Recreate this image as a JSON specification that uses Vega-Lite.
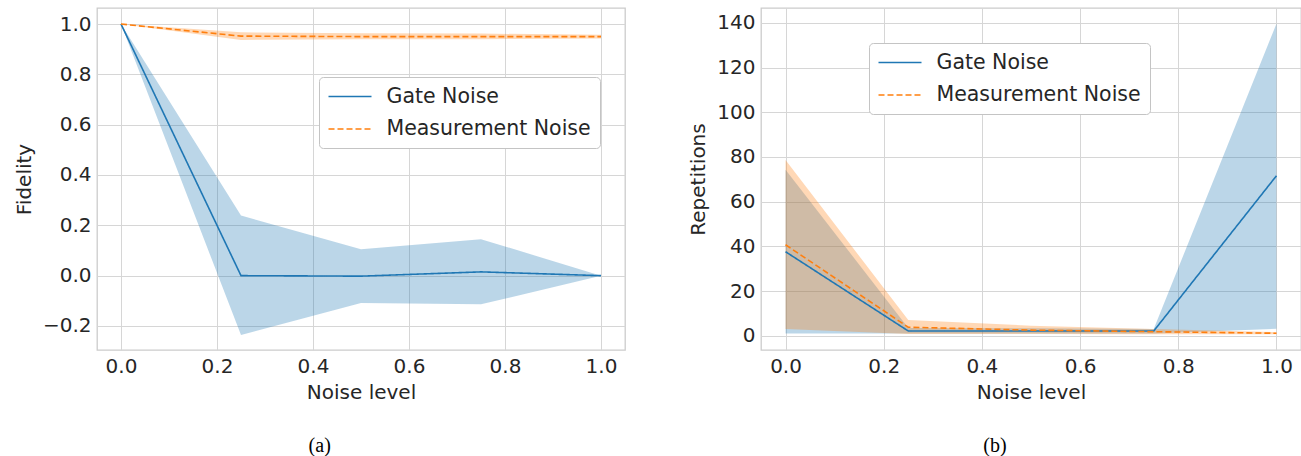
{
  "$schema": "https://vega.github.io/schema/vega-lite/v6.json",
  "background": "white",
  "padding": {"left": 13, "top": 7, "right": 1, "bottom": 2},
  "config": {
    "font": "DejaVu Sans",
    "view": {"stroke": "#cccccc", "strokeWidth": 1.3},
    "axis": {
      "grid": true, "gridColor": "#d6d6d6", "gridWidth": 1,
      "domain": false, "ticks": false,
      "labelFont": "DejaVu Sans", "labelFontSize": 20, "labelColor": "#262626", "labelPadding": 6,
      "labelFlush": false, "labelOverlap": false,
      "titleFont": "DejaVu Sans", "titleFontSize": 20, "titleFontWeight": "normal", "titleColor": "#262626"
    },
    "axisX": {"titlePadding": 6},
    "axisY": {"titlePadding": 8},
    "legend": {
      "title": null, "orient": "none",
      "fillColor": "white", "strokeColor": "#c4c4c4", "cornerRadius": 4, "padding": 8.5,
      "labelFont": "DejaVu Sans", "labelFontSize": 20.5, "labelColor": "#262626", "labelLimit": 500,
      "symbolType": "M-2.15,0L2.15,0", "symbolSize": 400, "symbolOffset": 11.5, "symbolStrokeWidth": 1.6,
      "labelOffset": 25.5, "rowPadding": 10.5
    },
    "title": {"font": "Liberation Serif", "fontSize": 20, "fontWeight": "normal", "color": "#000000", "orient": "bottom", "anchor": "middle", "frame": "bounds", "offset": 34}
  },
  "data": {
    "values": [
      {"panel": "a", "series": "Gate Noise", "noise": 0.0, "mean": 1.0, "lo": 1.0, "hi": 1.0},
      {"panel": "a", "series": "Gate Noise", "noise": 0.25, "mean": 0.0, "lo": -0.236, "hi": 0.239},
      {"panel": "a", "series": "Gate Noise", "noise": 0.5, "mean": -0.002, "lo": -0.109, "hi": 0.105},
      {"panel": "a", "series": "Gate Noise", "noise": 0.75, "mean": 0.015, "lo": -0.114, "hi": 0.145},
      {"panel": "a", "series": "Gate Noise", "noise": 1.0, "mean": 0.0, "lo": 0.0, "hi": 0.0},
      {"panel": "a", "series": "Measurement Noise", "noise": 0.0, "mean": 1.0, "lo": 1.0, "hi": 1.0},
      {"panel": "a", "series": "Measurement Noise", "noise": 0.25, "mean": 0.952, "lo": 0.937, "hi": 0.967},
      {"panel": "a", "series": "Measurement Noise", "noise": 0.5, "mean": 0.95, "lo": 0.94, "hi": 0.963},
      {"panel": "a", "series": "Measurement Noise", "noise": 0.75, "mean": 0.95, "lo": 0.94, "hi": 0.962},
      {"panel": "a", "series": "Measurement Noise", "noise": 1.0, "mean": 0.95, "lo": 0.942, "hi": 0.957},
      {"panel": "b", "series": "Gate Noise", "noise": 0.0, "mean": 37.6, "lo": 1.0, "hi": 74.3},
      {"panel": "b", "series": "Gate Noise", "noise": 0.25, "mean": 2.1, "lo": 1.0, "hi": 3.5},
      {"panel": "b", "series": "Gate Noise", "noise": 0.5, "mean": 2.1, "lo": 1.0, "hi": 3.3},
      {"panel": "b", "series": "Gate Noise", "noise": 0.75, "mean": 2.1, "lo": 1.0, "hi": 3.0},
      {"panel": "b", "series": "Gate Noise", "noise": 1.0, "mean": 71.6, "lo": 3.1, "hi": 139.7},
      {"panel": "b", "series": "Measurement Noise", "noise": 0.0, "mean": 40.7, "lo": 3.0, "hi": 78.7},
      {"panel": "b", "series": "Measurement Noise", "noise": 0.25, "mean": 3.8, "lo": 0.8, "hi": 7.0},
      {"panel": "b", "series": "Measurement Noise", "noise": 0.5, "mean": 2.5, "lo": 0.8, "hi": 4.5},
      {"panel": "b", "series": "Measurement Noise", "noise": 0.75, "mean": 1.8, "lo": 0.7, "hi": 3.0},
      {"panel": "b", "series": "Measurement Noise", "noise": 1.0, "mean": 1.1, "lo": 0.6, "hi": 1.6}
    ]
  },
  "spacing": 136,
  "bounds": "flush",
  "resolve": {"legend": {"color": "independent", "strokeDash": "independent"}},
  "hconcat": [
    {
      "width": 528, "height": 342,
      "title": {"text": "(a)"},
      "transform": [{"filter": "datum.panel == 'a'"}],
      "layer": [
        {
          "mark": {"type": "area", "opacity": 0.3},
          "encoding": {
            "x": {"field": "noise", "type": "quantitative", "scale": {"domain": [-0.05, 1.05], "nice": false, "zero": false},
                  "axis": {"values": [0, 0.2, 0.4, 0.6, 0.8, 1.0], "format": ".1f", "title": "Noise level"}},
            "y": {"field": "lo", "type": "quantitative", "scale": {"domain": [-0.2955, 1.0637], "nice": false, "zero": false},
                  "axis": {"values": [-0.2, 0, 0.2, 0.4, 0.6, 0.8, 1.0], "format": ".1f", "title": "Fidelity"}},
            "y2": {"field": "hi"},
            "fill": {"field": "series", "type": "nominal", "scale": {"domain": ["Gate Noise", "Measurement Noise"], "range": ["#1f77b4", "#ff7f0e"]}, "legend": null}
          }
        },
        {
          "mark": {"type": "line", "strokeWidth": 1.6},
          "encoding": {
            "x": {"field": "noise", "type": "quantitative"},
            "y": {"field": "mean", "type": "quantitative"},
            "color": {"field": "series", "type": "nominal", "scale": {"domain": ["Gate Noise", "Measurement Noise"], "range": ["#1f77b4", "#ff7f0e"]},
                      "legend": {"legendX": 222, "legendY": 69}},
            "strokeDash": {"field": "series", "type": "nominal", "scale": {"domain": ["Gate Noise", "Measurement Noise"], "range": [[1, 0], [6, 3]]},
                      "legend": {"legendX": 222, "legendY": 69}}
          }
        }
      ]
    },
    {
      "width": 540, "height": 342,
      "title": {"text": "(b)"},
      "transform": [{"filter": "datum.panel == 'b'"}],
      "layer": [
        {
          "mark": {"type": "area", "opacity": 0.3},
          "encoding": {
            "x": {"field": "noise", "type": "quantitative", "scale": {"domain": [-0.05, 1.05], "nice": false, "zero": false},
                  "axis": {"values": [0, 0.2, 0.4, 0.6, 0.8, 1.0], "format": ".1f", "title": "Noise level"}},
            "y": {"field": "lo", "type": "quantitative", "scale": {"domain": [-6.4, 146.7], "nice": false, "zero": false},
                  "axis": {"values": [0, 20, 40, 60, 80, 100, 120, 140], "format": "d", "title": "Repetitions"}},
            "y2": {"field": "hi"},
            "fill": {"field": "series", "type": "nominal", "scale": {"domain": ["Gate Noise", "Measurement Noise"], "range": ["#1f77b4", "#ff7f0e"]}, "legend": null}
          }
        },
        {
          "mark": {"type": "line", "strokeWidth": 1.6},
          "encoding": {
            "x": {"field": "noise", "type": "quantitative"},
            "y": {"field": "mean", "type": "quantitative"},
            "color": {"field": "series", "type": "nominal", "scale": {"domain": ["Gate Noise", "Measurement Noise"], "range": ["#1f77b4", "#ff7f0e"]},
                      "legend": {"legendX": 108, "legendY": 35}},
            "strokeDash": {"field": "series", "type": "nominal", "scale": {"domain": ["Gate Noise", "Measurement Noise"], "range": [[1, 0], [6, 3]]},
                      "legend": {"legendX": 108, "legendY": 35}}
          }
        }
      ]
    }
  ]
}
